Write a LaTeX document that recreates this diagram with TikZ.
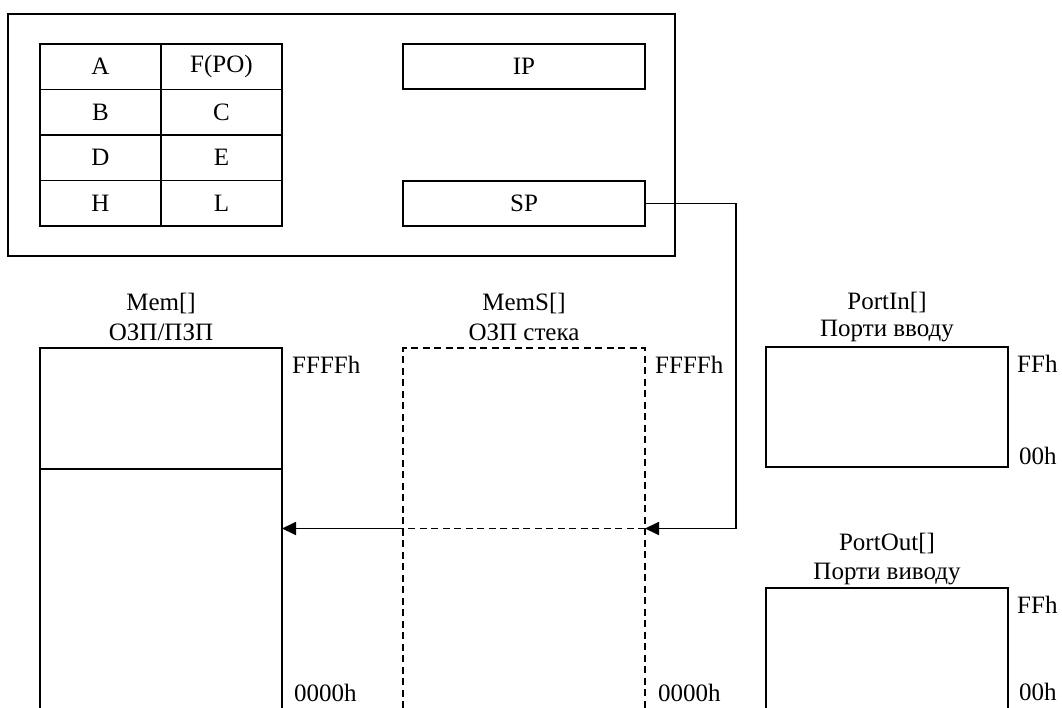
\documentclass[tikz,border=0pt]{standalone}
\usepackage{fontspec}
\setmainfont{Liberation Serif}
\usetikzlibrary{arrows.meta}
\begin{document}
\begin{tikzpicture}[x=1pt,y=-1pt,
  every node/.style={font=\fontsize{25}{29}\selectfont},
  line/.style={line width=1.8pt},
  cell/.style={draw,line width=1.8pt,minimum width=121pt,minimum height=45.5pt,inner sep=0pt},
  reg/.style={draw,line width=1.8pt,minimum width=242pt,minimum height=45pt,inner sep=0pt},
  arr/.style={line width=1.8pt,-{Triangle[length=14pt,width=13pt]}},
  dsh/.style={line width=1.6pt,dash pattern=on 7pt off 4.5pt},
  lbl/.style={inner sep=0pt},
  addr/.style={inner sep=0pt,anchor=west}]
\useasboundingbox (0,0) rectangle (1062,708);
% processor box
\node[draw,line width=1.8pt,minimum width=667pt,minimum height=242pt,inner sep=0pt] (cpu) at (341.5,135) {};
% register table
\node[cell] (A) at (100.5,66.75) {A};
\node[cell] (F) at (221.5,66.75) {F(PO)};
\node[cell] (B) at (100.5,112.25) {B};
\node[cell] (C) at (221.5,112.25) {C};
\node[cell] (D) at (100.5,157.75) {D};
\node[cell] (E) at (221.5,157.75) {E};
\node[cell] (H) at (100.5,203.25) {H};
\node[cell] (L) at (221.5,203.25) {L};
\node[reg] (IP) at (524,66.5) {IP};
\node[reg] (SP) at (524,203.5) {SP};
% Mem
\draw[line] (40,708) -- (40,348) -- (282,348) -- (282,708);
\draw[line] (40,469) -- (282,469);
\node[lbl] (memt) at (161,303) {Mem[]};
\node[lbl] (mems) at (161,332) {ОЗП/ПЗП};
\node[addr] (memhi) at (292,365) {FFFFh};
\node[addr] (memlo) at (294,693) {0000h};
% MemS
\draw[dsh] (403,708) -- (403,348) -- (645,348) -- (645,708);
\node[lbl] (memst) at (524,303) {MemS[]};
\node[lbl] (memss) at (524,332) {ОЗП стека};
\node[addr] (msthi) at (655,365) {FFFFh};
\node[addr] (mstlo) at (658,693) {0000h};
% PortIn
\node[draw,line width=1.8pt,minimum width=242pt,minimum height=120pt,inner sep=0pt] (pin) at (887,407) {};
\node[lbl] (pint) at (887,302.5) {PortIn[]};
\node[lbl] (pins) at (887,331) {Порти вводу};
\node[addr] (pinhi) at (1017,364) {FFh};
\node[addr] (pinlo) at (1019,456) {00h};
% PortOut
\draw[line] (766,708) -- (766,588) -- (1008,588) -- (1008,708);
\node[lbl] (poutt) at (887,543) {PortOut[]};
\node[lbl] (pouts) at (887,574) {Порти виводу};
\node[addr] (pouthi) at (1017,605) {FFh};
\node[addr] (poutlo) at (1019,692) {00h};
% connectors
\coordinate (bendA) at (736,203.5);
\coordinate (bendB) at (736,528.5);
\coordinate (memsR) at (645,528.5);
\coordinate (memsL) at (403,528.5);
\coordinate (memR) at (282,528.5);
\draw[arr] (SP.east) -- (bendA) -- (bendB) -- (memsR);
\draw[dsh] (memsR) -- (memsL);
\draw[arr] (memsL) -- (memR);
\end{tikzpicture}
\end{document}
